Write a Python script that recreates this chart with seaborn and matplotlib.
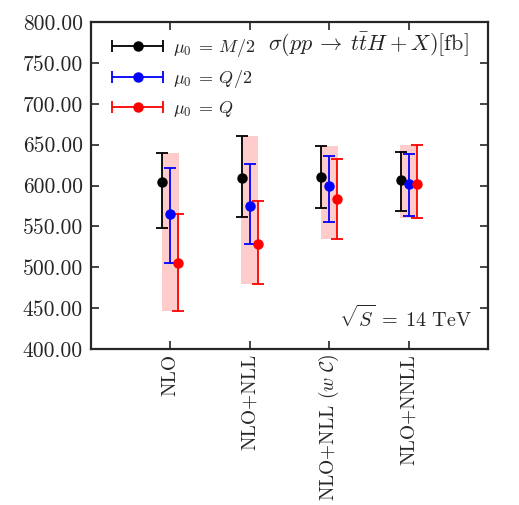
import numpy as np
import matplotlib
matplotlib.use("Agg")
import matplotlib.pyplot as plt
from matplotlib.container import ErrorbarContainer
from matplotlib.legend_handler import HandlerErrorbar
import seaborn as sns

categories = ["NLO", "NLO+NLL", r"NLO+NLL ($w\ \mathcal{C}$)", "NLO+NNLL"]
series_labels = [r"$\mu_0 \:=\: M/2$", r"$\mu_0 \:=\: Q/2$", r"$\mu_0 \:=\: Q$"]
series_colors = ["black", "blue", "red"]

# central values, upper and lower ends of error bars
m2_center = [604, 609, 610, 607]
m2_high = [640, 660, 648, 641]
m2_low = [548, 561, 572, 569]

q2_center = [565, 575, 599, 602]
q2_high = [622, 626, 636, 638]
q2_low = [505, 529, 555, 563]

q_center = [505, 529, 584, 602]
q_high = [565, 581, 633, 650]
q_low = [447, 480, 535, 560]

band_low = [447, 480, 535, 560]
band_high = [640, 660, 648, 650]

yticks = [400, 450, 500, 550, 600, 650, 700, 750, 800]

sns.set_style("ticks")
plt.rcParams["font.family"] = ["cmr10", "DejaVu Serif"]
plt.rcParams["mathtext.fontset"] = "cm"
plt.rcParams["axes.formatter.use_mathtext"] = True

fig = plt.figure(figsize=(5.19, 5.05), dpi=100)
ax = fig.add_axes([0.1753, 0.3089, 0.9403 - 0.1753, 0.9564 - 0.3089])

x = np.arange(1, len(categories) + 1)
offsets = [-0.1, 0.0, 0.1]

ax.bar(x, np.array(band_high) - np.array(band_low), bottom=band_low, width=0.21,
       color="red", alpha=0.2, linewidth=0, zorder=1)

data = [(m2_center, m2_low, m2_high), (q2_center, q2_low, q2_high), (q_center, q_low, q_high)]
handles = []
for (c, lo, hi), col, lab, off in zip(data, series_colors, series_labels, offsets):
    c = np.array(c); lo = np.array(lo); hi = np.array(hi)
    ax.errorbar(x + off, c, yerr=[c - lo, hi - c], fmt="o", color=col, ecolor=col,
                markersize=6.5, capsize=4, elinewidth=1.3, capthick=1.3, zorder=3)
    # legend proxy with horizontal error bar
    h = ax.errorbar([np.nan], [np.nan], xerr=[1], fmt="o", color=col, ecolor=col,
                    markersize=6.5, capsize=4, elinewidth=1.3, capthick=1.3, label=lab)
    handles.append(h)

ax.set_xlim(0, 5)
ax.set_ylim(400, 800)
ax.set_yticks(yticks)
ax.set_yticklabels([f"{v:.2f}" for v in yticks], fontsize=15.5)
ax.set_xticks(x)
ax.set_xticklabels(categories, rotation=90, fontsize=14)
ax.tick_params(direction="in", top=True, right=True, length=6, width=1.2)
ax.tick_params(axis="y", pad=6)
for s in ax.spines.values():
    s.set_linewidth(1.6)

leg = ax.legend(handles=handles, loc="upper left", bbox_to_anchor=(0.013, 1.0),
                frameon=False, fontsize=13,
                handlelength=2.9, borderaxespad=0.45, labelspacing=0.5, handletextpad=0.5,
                handler_map={ErrorbarContainer: HandlerErrorbar(xerr_size=1.4)})

ax.text(0.447, 0.93, r"$\sigma(pp \:\rightarrow\: t\bar{t}H \:+\: X)[\mathrm{fb}]$",
        transform=ax.transAxes, fontsize=16, va="center", ha="left")
ax.text(0.96, 0.095, r"$\sqrt{S} \;=\; 14\ \mathrm{TeV}$", transform=ax.transAxes,
        fontsize=14.5, va="center", ha="right")

fig.savefig("out.png", dpi=100)
